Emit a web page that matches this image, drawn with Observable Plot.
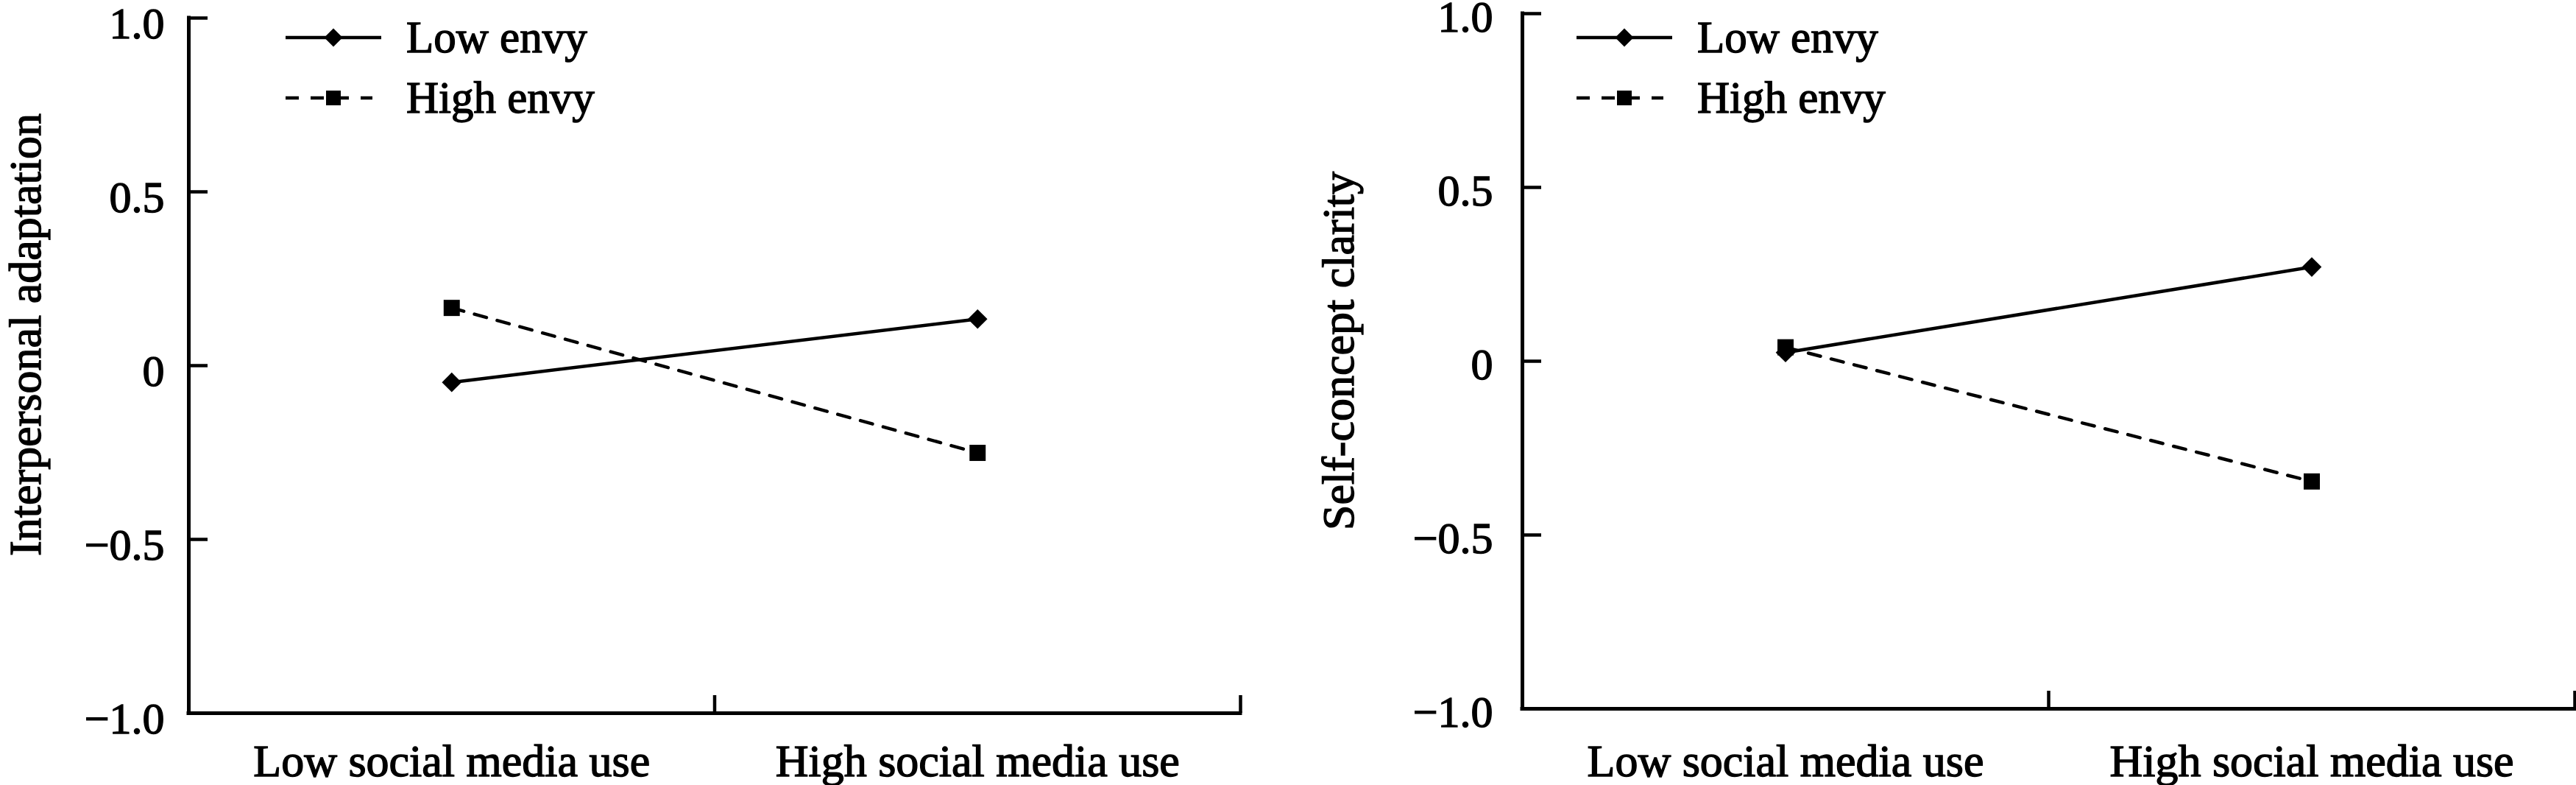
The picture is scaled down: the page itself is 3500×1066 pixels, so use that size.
<!DOCTYPE html>
<html>
<head>
<meta charset="utf-8">
<script src="https://cdn.jsdelivr.net/npm/d3@7"></script>
<script src="https://cdn.jsdelivr.net/npm/@observablehq/plot@0.6"></script>
<style>
  html, body { margin: 0; padding: 0; background: #fff; }
  #wrap { display: flex; width: 3500px; height: 1066px; }
  .panel { position: relative; width: 1750px; height: 1066px; }
  .panel svg.legend { position: absolute; left: 0; top: 0; pointer-events: none; overflow: visible; }
  .panel svg text { stroke: black; stroke-width: 1.4px; paint-order: stroke; }
</style>
</head>
<body>
<div id="wrap"></div>
<script>
// ---- data ----
const categories = ["Low social media use", "High social media use"];
const envyGroups = ["Low envy", "High envy"];
const yTicks = [-1, -0.5, 0, 0.5, 1];
const yTickLabels = ["\u22121.0", "\u22120.5", "0", "0.5", "1.0"];
const xBoundaryTicks = [1, 2];

const leftLowEnvy  = [-0.048, 0.134];
const leftHighEnvy = [0.166, -0.251];
const rightLowEnvy  = [0.025, 0.271];
const rightHighEnvy = [0.040, -0.346];

const leftYLabel = "Interpersonal adaptation";
const rightYLabel = "Self-concept clarity";

// ---- layout (not data) ----
const FONT = "'Liberation Serif', 'Times New Roman', serif";
const panels = [
  { low: leftLowEnvy, high: leftHighEnvy, yLabel: leftYLabel,
    marginLeft: 256, marginRight: 65, marginTop: 24, marginBottom: 98,
    tickGap: 33, tickDy: 8, xPad: 41, yLabelDx: -202, yLabelDy: -42,
    legendX: 388 },
  { low: rightLowEnvy, high: rightHighEnvy, yLabel: rightYLabel,
    marginLeft: 318, marginRight: 2, marginTop: 18, marginBottom: 104,
    tickGap: 40, tickDy: 5, xPad: 47, yLabelDx: -230, yLabelDy: -14,
    legendX: 392 }
];

function buildRows(lowVals, highVals) {
  return envyGroups.flatMap((g, gi) =>
    (gi === 0 ? lowVals : highVals).map((v, i) => ({cat: i, envy: g, value: v})));
}

const wrap = document.getElementById("wrap");

panels.forEach(p => {
  const rows = buildRows(p.low, p.high);
  const catX = d => d.cat + 0.5;
  const chart = Plot.plot({
    width: 1750,
    height: 1066,
    marginLeft: p.marginLeft,
    marginRight: p.marginRight,
    marginTop: p.marginTop,
    marginBottom: p.marginBottom,
    style: {fontFamily: FONT, fontSize: "60px", color: "black", background: "white", overflow: "visible"},
    x: {type: "linear", domain: [0, categories.length], axis: null},
    y: {domain: [-1, 1], axis: null},
    marks: [
      // axis lines
      Plot.ruleX([0], {stroke: "black", strokeWidth: 5, strokeLinecap: "square"}),
      Plot.ruleY([-1], {stroke: "black", strokeWidth: 5, strokeLinecap: "square"}),
      // y ticks (inward)
      Plot.axisY({ticks: yTicks, tickSize: -26, tickFormat: () => "", strokeWidth: 4.5, label: null}),
      // y tick labels
      Plot.axisY({ticks: yTicks, tickSize: 0, tickPadding: p.tickGap, dy: p.tickDy,
                  tickFormat: d => yTickLabels[yTicks.indexOf(d)], fontSize: 60, label: null}),
      // x boundary ticks (upward)
      Plot.axisX({ticks: xBoundaryTicks, tickSize: -24, tickFormat: () => "", strokeWidth: 4.5, label: null}),
      // x category labels
      Plot.axisX({ticks: categories.map((c, i) => i + 0.5), tickSize: 0, tickPadding: p.xPad,
                  tickFormat: d => categories[Math.floor(d)], fontSize: 62, label: null}),
      // y title
      Plot.text([p.yLabel], {text: d => d, frameAnchor: "left", rotate: -90, lineAnchor: "bottom",
                             textAnchor: "middle",
                             dx: p.yLabelDx, dy: p.yLabelDy, fontSize: 62, fill: "black"}),
      // series
      Plot.line(rows.filter(d => d.envy === "Low envy"), {x: catX, y: "value", stroke: "black", strokeWidth: 4.5}),
      Plot.line(rows.filter(d => d.envy === "High envy"), {x: catX, y: "value", stroke: "black", strokeWidth: 4.5, strokeDasharray: "17,15"}),
      Plot.dot(rows.filter(d => d.envy === "Low envy"), {x: catX, y: "value", symbol: "diamond2", r: 12, fill: "black", stroke: "none"}),
      Plot.dot(rows.filter(d => d.envy === "High envy"), {x: catX, y: "value", symbol: "square", r: 12.4, fill: "black", stroke: "none"})
    ]
  });

  const div = document.createElement("div");
  div.className = "panel";
  div.appendChild(chart);
  wrap.appendChild(div);

  // legend overlay
  const lg = d3.select(div).append("svg")
    .attr("class", "legend")
    .attr("width", 1000).attr("height", 200);
  const x0 = p.legendX;
  const rowsY = [51, 133];
  // Low envy
  lg.append("line").attr("x1", x0).attr("x2", x0 + 130).attr("y1", rowsY[0]).attr("y2", rowsY[0])
    .attr("stroke", "black").attr("stroke-width", 4.5);
  lg.append("path").attr("d", d3.symbol(d3.symbolDiamond2, 400)())
    .attr("transform", `translate(${x0 + 65},${rowsY[0]})`).attr("fill", "black");
  // High envy
  lg.append("line").attr("x1", x0).attr("x2", x0 + 118).attr("y1", rowsY[1]).attr("y2", rowsY[1])
    .attr("stroke", "black").attr("stroke-width", 4.5).attr("stroke-dasharray", "18,16");
  lg.append("rect").attr("x", x0 + 55).attr("y", rowsY[1] - 10).attr("width", 20).attr("height", 20).attr("fill", "black");
  envyGroups.forEach((g, i) => {
    lg.append("text").attr("x", x0 + 164).attr("y", rowsY[i]).attr("dy", "0.33em")
      .attr("font-family", FONT).attr("font-size", 61).attr("fill", "black").text(g);
  });
});
</script>
</body>
</html>
